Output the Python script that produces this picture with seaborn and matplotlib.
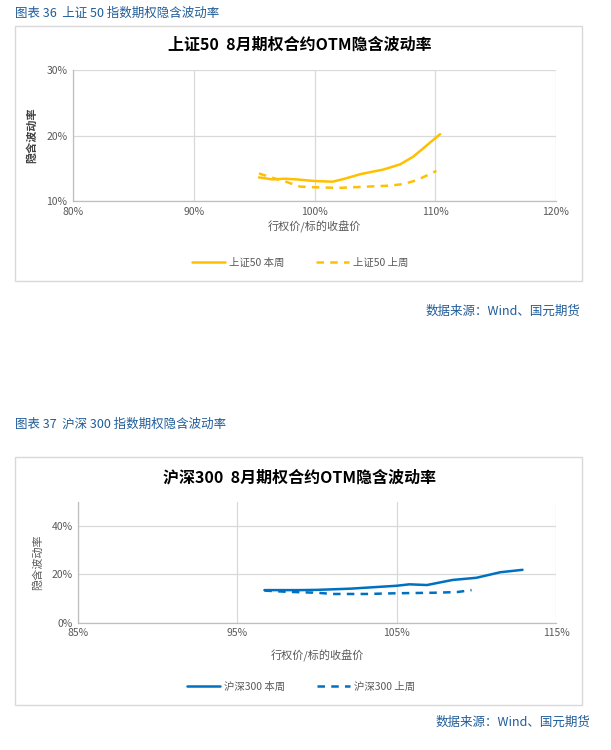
import matplotlib
matplotlib.use("Agg")
import matplotlib.pyplot as plt
import seaborn as sns
import pandas as pd
from matplotlib.patches import Rectangle
from matplotlib.ticker import FuncFormatter, FixedLocator

# ---- data ----
sz50_this_x = [95.4, 96.5, 97.5, 98.5, 100.0, 101.5, 102.5, 103.8, 105.7, 107.1, 108.2, 109.3, 110.4]
sz50_this_y = [13.6, 13.3, 13.4, 13.3, 13.05, 12.95, 13.4, 14.1, 14.8, 15.6, 16.8, 18.5, 20.2]
sz50_last_x = [95.4, 96.6, 97.7, 98.8, 100.0, 102.0, 104.4, 106.3, 107.4, 108.5, 110.1]
sz50_last_y = [14.2, 13.5, 12.9, 12.2, 12.1, 12.0, 12.2, 12.35, 12.6, 13.2, 14.6]

hs300_this_x = [96.7, 98.9, 100.0, 102.1, 105.0, 105.8, 106.9, 108.5, 110.0, 111.5, 112.9]
hs300_this_y = [13.5, 13.5, 13.6, 14.1, 15.3, 15.9, 15.6, 17.7, 18.6, 20.9, 21.9]
hs300_last_x = [96.7, 98.1, 100.0, 101.0, 103.1, 105.0, 107.3, 108.8, 109.7]
hs300_last_y = [13.3, 12.8, 12.4, 11.9, 11.9, 12.2, 12.4, 12.7, 13.5]

top_xticks = [80, 90, 100, 110, 120]
top_yticks = [10, 20, 30]
bot_xticks = [85, 95, 105, 115]
bot_yticks = [0, 20, 40]

sns.set_theme(style="white")
plt.rcParams['font.family'] = ['Noto Sans CJK SC', 'DejaVu Sans']
plt.rcParams['axes.unicode_minus'] = False

W, H = 611, 750
fig = plt.figure(figsize=(W / 100, H / 100), dpi=100)

def fx(px):
    return px / W

def fy(py):
    return 1 - py / H

blue_txt = '#1F5C99'
grid_c = '#D9D9D9'
tick_c = '#595959'

# frames
for (x0, y0, x1, y1) in [(15, 26, 582, 281), (15, 457, 582, 705)]:
    fig.patches.append(Rectangle((fx(x0), fy(y1)), fx(x1) - fx(x0), fy(y0) - fy(y1),
                                 transform=fig.transFigure, fill=False,
                                 edgecolor=grid_c, linewidth=1.0))

# captions
fig.text(fx(15), fy(13), '图表 36  上证 50 指数期权隐含波动率', color=blue_txt, fontsize=9,
         va='center', ha='left')
fig.text(fx(15), fy(424), '图表 37  沪深 300 指数期权隐含波动率', color=blue_txt, fontsize=9,
         va='center', ha='left')
fig.text(fx(580), fy(311), '数据来源：Wind、国元期货', color=blue_txt, fontsize=9,
         va='center', ha='right')
fig.text(fx(590), fy(722), '数据来源：Wind、国元期货', color=blue_txt, fontsize=9,
         va='center', ha='right')

# titles
fig.text(fx(300), fy(45), '上证50  8月期权合约OTM隐含波动率', fontsize=11.5, fontweight='bold',
         color='black', ha='center', va='center')
fig.text(fx(300), fy(477), '沪深300  8月期权合约OTM隐含波动率', fontsize=11.5, fontweight='bold',
         color='black', ha='center', va='center')

pct = FuncFormatter(lambda v, p: f'{v:.0f}%')

def style_axes(ax, xt, yt, xlim, ylim):
    ax.set_xlim(*xlim)
    ax.set_ylim(*ylim)
    ax.xaxis.set_major_locator(FixedLocator(xt))
    ax.yaxis.set_major_locator(FixedLocator(yt))
    ax.xaxis.set_major_formatter(pct)
    ax.yaxis.set_major_formatter(pct)
    ax.grid(True, color=grid_c, linewidth=0.9)
    ax.set_axisbelow(True)
    for s in ['top', 'right']:
        ax.spines[s].set_visible(False)
    for s in ['left', 'bottom']:
        ax.spines[s].set_color('#BFBFBF')
        ax.spines[s].set_linewidth(0.9)
    ax.tick_params(axis='both', length=0, labelsize=7.5, colors=tick_c, pad=4)

# ---- top chart ----
ax1 = fig.add_axes([fx(73), fy(201), fx(556) - fx(73), fy(70) - fy(201)])
gold = '#FFC000'
df1a = pd.DataFrame({'x': sz50_this_x, 'y': sz50_this_y})
df1b = pd.DataFrame({'x': sz50_last_x, 'y': sz50_last_y})
sns.lineplot(data=df1a, x='x', y='y', ax=ax1, color=gold, lw=1.8,
             label='上证50 本周', sort=False)
sns.lineplot(data=df1b, x='x', y='y', ax=ax1, color=gold, lw=1.8,
             label='上证50 上周', sort=False, linestyle=(0, (3, 2.5)))
style_axes(ax1, top_xticks, top_yticks, (80, 120), (10, 30))
ax1.set_xlabel('行权价/标的收盘价', fontsize=8, color=tick_c, labelpad=3)
ax1.set_ylabel('隐含波动率', fontsize=8, color='#404040', fontweight='bold', labelpad=6)
ax1.legend(loc='center', bbox_to_anchor=(fx(300), fy(263)), bbox_transform=fig.transFigure,
           ncol=2, frameon=False, fontsize=7.5, labelcolor=tick_c, handlelength=3.2,
           columnspacing=3.0, handletextpad=0.4)

# ---- bottom chart ----
ax2 = fig.add_axes([fx(78), fy(622.7), fx(556) - fx(78), fy(502) - fy(622.7)])
blue = '#0070C0'
df2a = pd.DataFrame({'x': hs300_this_x, 'y': hs300_this_y})
df2b = pd.DataFrame({'x': hs300_last_x, 'y': hs300_last_y})
sns.lineplot(data=df2a, x='x', y='y', ax=ax2, color=blue, lw=1.8, label='沪深300 本周', sort=False)
sns.lineplot(data=df2b, x='x', y='y', ax=ax2, color=blue, lw=1.8, label='沪深300 上周', sort=False,
             linestyle=(0, (3, 2.5)))
style_axes(ax2, bot_xticks, bot_yticks, (85, 115), (0, 50))
ax2.set_xlabel('行权价/标的收盘价', fontsize=8, color=tick_c, labelpad=8)
ax2.set_ylabel('隐含波动率', fontsize=8, color=tick_c, labelpad=6)
ax2.legend(loc='center', bbox_to_anchor=(fx(301), fy(687)), bbox_transform=fig.transFigure,
           ncol=2, frameon=False, fontsize=7.5, labelcolor=tick_c, handlelength=3.2,
           columnspacing=3.0, handletextpad=0.4)

fig.savefig('out.png', dpi=100, facecolor='white')
